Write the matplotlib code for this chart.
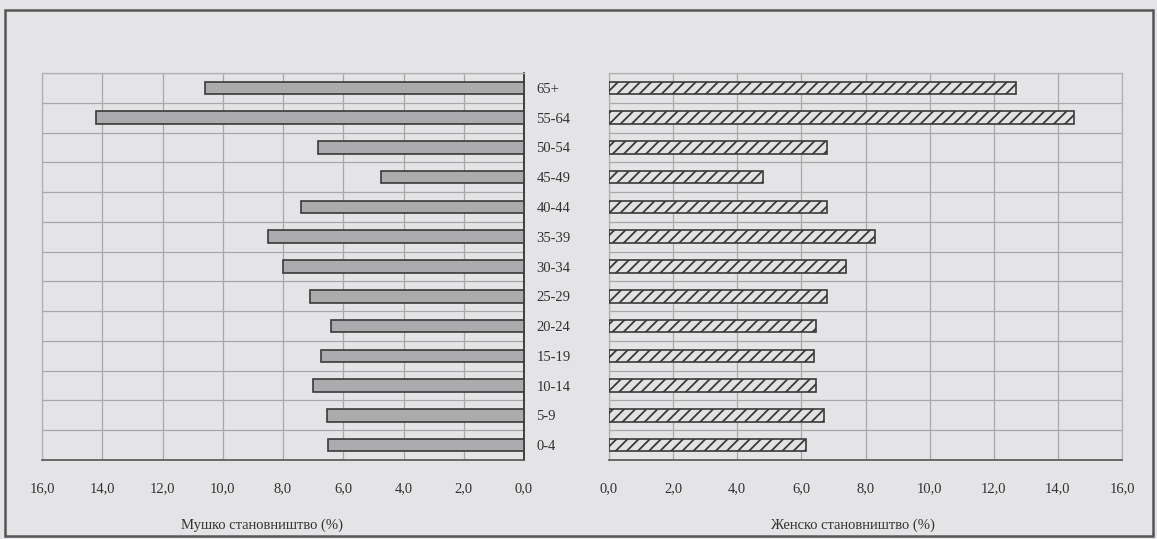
import matplotlib
matplotlib.use("Agg")
import matplotlib.pyplot as plt
from matplotlib.patches import Rectangle
import numpy as np

plt.rcParams['font.family'] = ['Liberation Serif', 'DejaVu Serif']
plt.rcParams['hatch.color'] = '#8e8e8e'
plt.rcParams['hatch.linewidth'] = 1.3

age_groups = ["0-4", "5-9", "10-14", "15-19", "20-24", "25-29", "30-34",
              "35-39", "40-44", "45-49", "50-54", "55-64", "65+"]
male = [6.5, 6.55, 7.0, 6.75, 6.4, 7.1, 8.0, 8.5, 7.4, 4.75, 6.85, 14.2, 10.6]
female = [6.15, 6.7, 6.45, 6.4, 6.45, 6.8, 7.4, 8.3, 6.8, 4.8, 6.8, 14.5, 12.7]
xticks = [0, 2, 4, 6, 8, 10, 12, 14, 16]
xticklabels = ["0,0", "2,0", "4,0", "6,0", "8,0", "10,0", "12,0", "14,0", "16,0"]
male_label = "Мушко становништво (%)"
female_label = "Женско становништво (%)"

W, H = 1157, 539
bg = '#e4e4e6'
fig = plt.figure(figsize=(W / 100, H / 100), dpi=100, facecolor=bg)

def px_axes(x0, x1, y0, y1):
    return [x0 / W, 1 - y1 / H, (x1 - x0) / W, (y1 - y0) / H]

ax1 = fig.add_axes(px_axes(42, 524, 73, 460))
ax2 = fig.add_axes(px_axes(609, 1122, 73, 460))

y = np.arange(len(age_groups))
bar_h = 0.42

ax1.barh(y, male, height=bar_h, color='#ababad', edgecolor='#3a3a3a', linewidth=1.2, zorder=3)
ax2.barh(y, female, height=bar_h, color='#e2e2e4', edgecolor='#3a3a3a', linewidth=1.2,
         hatch='///', zorder=3)

for ax in (ax1, ax2):
    ax.set_facecolor(bg)
    ax.set_ylim(-0.5, len(age_groups) - 0.5)
    ax.set_xticks(xticks)
    ax.set_xticklabels(xticklabels, fontsize=10.5, color='#333333')
    ax.set_yticks(np.arange(len(age_groups) + 1) - 0.5, minor=True)
    ax.grid(True, axis='x', color='#a8a8a8', linewidth=0.9, zorder=0)
    ax.grid(True, axis='y', which='minor', color='#a8a8a8', linewidth=0.9, zorder=0)
    ax.tick_params(axis='x', length=0, pad=16)
    ax.tick_params(axis='y', which='both', length=0)
    for s in ax.spines.values():
        s.set_color('#b0b0b0')
        s.set_linewidth(0.9)
    ax.spines['bottom'].set_color('#555555')
    ax.spines['bottom'].set_linewidth(1.2)

ax1.set_xlim(16, 0)
ax2.set_xlim(0, 16)

ax1.yaxis.tick_right()
ax1.set_yticks(y)
ax1.set_yticklabels(age_groups, fontsize=10.5, color='#333333')
ax1.tick_params(axis='y', which='major', pad=9)
ax1.spines['right'].set_color('#333333')
ax1.spines['right'].set_linewidth(1.3)
ax2.set_yticks([])

ax1.set_xlabel(male_label, fontsize=10.5, color='#333333')
ax1.xaxis.set_label_coords(0.457, -0.152)
ax2.set_xlabel(female_label, fontsize=10.5, color='#333333')
ax2.xaxis.set_label_coords(0.475, -0.152)

frame = Rectangle((5 / W, 1 - 536 / H), (1153 - 5) / W, (536 - 10) / H,
                  transform=fig.transFigure, fill=False, edgecolor='#555555',
                  linewidth=1.8)
fig.patches.append(frame)

fig.savefig("out.png", dpi=100, facecolor=bg)
